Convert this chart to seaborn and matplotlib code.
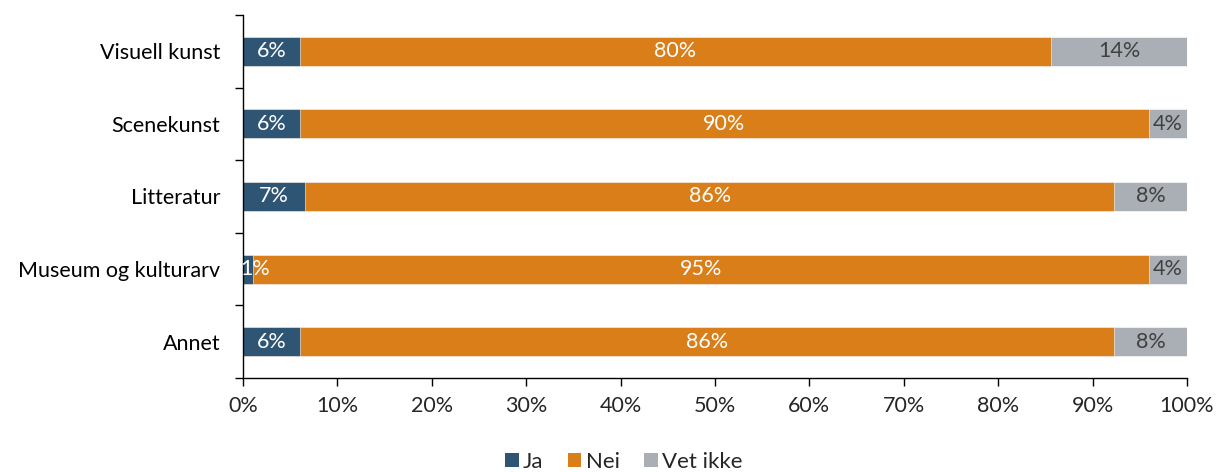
import pandas as pd
import seaborn as sns
import matplotlib.pyplot as plt
from matplotlib.ticker import PercentFormatter, FixedLocator
from matplotlib.patches import Patch

# Data (percent)
categories = ["Visuell kunst", "Scenekunst", "Litteratur", "Museum og kulturarv", "Annet"]
ja = [6.0, 6.0, 6.6, 1.1, 6.0]
nei = [79.6, 90.0, 85.7, 94.9, 86.3]
vet_ikke = [14.4, 4.0, 7.7, 4.0, 7.7]
series_names = ["Ja", "Nei", "Vet ikke"]

colors = ["#2F5574", "#D97E19", "#A9AFB4"]
text_colors = ["white", "white", "#404040"]

sns.set_style("white")
plt.rcParams["font.family"] = ["Lato", "DejaVu Sans"]
FS = 15.5

df = pd.DataFrame({"kategori": categories, "Ja": ja, "Nei": nei, "Vet ikke": vet_ikke})
df["cum_ja"] = df["Ja"]
df["cum_nei"] = df["Ja"] + df["Nei"]
df["cum_vet"] = df["cum_nei"] + df["Vet ikke"]

fig = plt.figure(figsize=(12.17, 4.72), dpi=100)
ax = fig.add_axes([243 / 1217, 1 - 378 / 472, 944 / 1217, 363 / 472])

# Draw cumulative bars back to front
for col, c in zip(["cum_vet", "cum_nei", "cum_ja"], colors[::-1]):
    sns.barplot(data=df, x=col, y="kategori", orient="h", color=c, width=0.4,
                saturation=1, ax=ax, edgecolor="white", linewidth=0.4)

# Segment labels
for i in range(len(categories)):
    start = 0
    for name, tc in zip(series_names, text_colors):
        v = df.loc[i, name]
        mid = start + v / 2
        if name == "Ja" and v < 3:
            mid = start + v / 2 + 0.7
        ax.text(mid, i, f"{round(v):.0f}%", ha="center", va="center",
                color=tc, fontsize=FS)
        start += v

ax.set_xlim(0, 100)
ax.set_ylim(len(categories) - 0.5, -0.5)
ax.xaxis.set_major_locator(FixedLocator(range(0, 101, 10)))
ax.xaxis.set_major_formatter(PercentFormatter(decimals=0))
ax.set_xlabel("")
ax.set_ylabel("")

# y ticks at boundaries between categories, labels at centers
ax.set_yticks([i - 0.5 for i in range(len(categories) + 1)])
ax.set_yticklabels([])
ax.set_yticks(range(len(categories)), minor=True)
ax.set_yticklabels(categories, minor=True, fontsize=FS, color="black")
ax.tick_params(axis="y", which="minor", length=0, pad=16.5)
ax.tick_params(axis="y", which="major", length=6, width=1, color="black", direction="out", left=True)
ax.tick_params(axis="x", length=6, width=1, color="black", direction="out", bottom=True,
               labelsize=FS, pad=7)

for s in ["top", "right"]:
    ax.spines[s].set_visible(False)
for s in ["left", "bottom"]:
    ax.spines[s].set_color("black")
    ax.spines[s].set_linewidth(1)

handles = [Patch(facecolor=c, edgecolor="none") for c in colors]
fig.legend(handles, series_names, loc="center", bbox_to_anchor=(624 / 1217, 1 - 462 / 472),
           ncol=3, frameon=False, fontsize=16, handlelength=0.6, handleheight=0.6,
           handletextpad=0.2, columnspacing=1.1)

fig.savefig("out.png", dpi=100)
